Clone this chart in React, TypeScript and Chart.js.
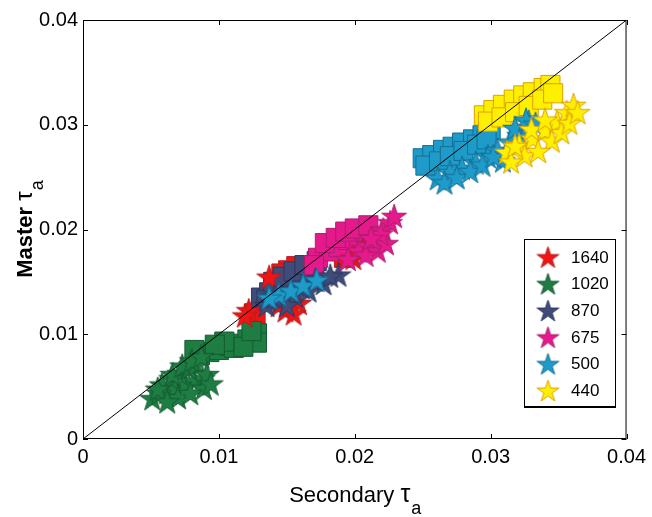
import React, { useEffect, useRef } from "react";
import { Chart, registerables } from "chart.js";
Chart.register(...registerables);

const seriesLabels = ["1640", "1020", "870", "675", "500", "440"];
const fillColors = ["#f01414", "#1e7d41", "#414b78", "#e6198c", "#1e9bc8", "#fff000"];
const edgeColors = ["#b41e1e", "#145a32", "#2d3760", "#aa1e6e", "#146e96", "#dca000"];
const axisTicks = [0, 0.01, 0.02, 0.03, 0.04];

// squares (x = secondary, y = master)
const sq1640X = [0.0126, 0.0127, 0.0151, 0.0157, 0.0192, 0.0199, 0.0195, 0.014, 0.0146];
const sq1640Y = [0.012, 0.0114, 0.0161, 0.0165, 0.0173, 0.0182, 0.0176, 0.0148, 0.0158];
const sq1020X = [0.0093, 0.01, 0.0108, 0.0115, 0.0121, 0.0126, 0.0128, 0.0128, 0.0086, 0.0111, 0.0118, 0.0124, 0.0104, 0.0097, 0.0082];
const sq1020Y = [0.0083, 0.0085, 0.0089, 0.0091, 0.0095, 0.0098, 0.0101, 0.0092, 0.008, 0.0087, 0.0088, 0.0103, 0.0093, 0.009, 0.0085];
const sq870X = [0.0131, 0.0137, 0.0143, 0.0149, 0.0154, 0.016, 0.0166, 0.017, 0.0135, 0.0159, 0.014, 0.0147, 0.0155, 0.0163, 0.0172];
const sq870Y = [0.0135, 0.014, 0.0144, 0.0149, 0.0153, 0.0156, 0.0159, 0.0165, 0.0133, 0.0149, 0.015, 0.0155, 0.016, 0.0166, 0.017];
const sq675X = [0.0173, 0.0181, 0.0188, 0.0195, 0.0203, 0.0208, 0.017, 0.0178, 0.0186, 0.0193, 0.02, 0.021];
const sq675Y = [0.0173, 0.0179, 0.0183, 0.019, 0.0194, 0.0198, 0.0166, 0.0187, 0.0192, 0.0198, 0.0201, 0.0204];
const sq500X = [0.025, 0.0257, 0.0265, 0.0272, 0.0279, 0.0287, 0.0294, 0.03, 0.0252, 0.0262, 0.027, 0.028, 0.029, 0.0297];
const sq500Y = [0.0268, 0.0271, 0.0276, 0.0279, 0.0283, 0.0286, 0.029, 0.0295, 0.0261, 0.0265, 0.027, 0.0275, 0.0281, 0.0286];
const sq440X = [0.0295, 0.0302, 0.0309, 0.0317, 0.0324, 0.0331, 0.0339, 0.0344, 0.0298, 0.0308, 0.0318, 0.0328, 0.0338, 0.0346];
const sq440Y = [0.0309, 0.0314, 0.0319, 0.0324, 0.0328, 0.0331, 0.0335, 0.0338, 0.0303, 0.0307, 0.0312, 0.0318, 0.0324, 0.033];

// stars
const st1640X = [0.0137, 0.0122, 0.0119, 0.0149, 0.0144, 0.0159, 0.0155, 0.0199, 0.0206];
const st1640Y = [0.0155, 0.0123, 0.0118, 0.0123, 0.0128, 0.013, 0.012, 0.0173, 0.018];
const st1020X = [0.0051, 0.0056, 0.0062, 0.0068, 0.0075, 0.0082, 0.0088, 0.0071, 0.0078, 0.0065, 0.0083, 0.0058, 0.0089, 0.0055, 0.0066, 0.0073, 0.008, 0.0087, 0.0091, 0.0094, 0.007, 0.0079, 0.0062];
const st1020Y = [0.0039, 0.0044, 0.0045, 0.0049, 0.0053, 0.0056, 0.0058, 0.0063, 0.0068, 0.0058, 0.0071, 0.0052, 0.0049, 0.0048, 0.0062, 0.007, 0.0075, 0.0079, 0.0062, 0.0053, 0.004, 0.0044, 0.0036];
const st870X = [0.0135, 0.0146, 0.0156, 0.0166, 0.0177, 0.0188, 0.015, 0.0141, 0.0161, 0.0171, 0.0182];
const st870Y = [0.0128, 0.0133, 0.0137, 0.0142, 0.0149, 0.0157, 0.0128, 0.0136, 0.0145, 0.0152, 0.0156];
const st675X = [0.0203, 0.021, 0.0216, 0.0221, 0.0226, 0.0217, 0.0223, 0.0195, 0.0208, 0.0229, 0.0219, 0.0212];
const st675Y = [0.018, 0.0185, 0.0192, 0.02, 0.0207, 0.018, 0.0187, 0.0172, 0.0176, 0.0213, 0.0196, 0.0192];
const st500X = [0.0261, 0.027, 0.0279, 0.0289, 0.0298, 0.0305, 0.0314, 0.0321, 0.0328, 0.0309, 0.0144, 0.0153, 0.0162, 0.0172, 0.0137, 0.0266, 0.0275, 0.0285, 0.0294, 0.0302, 0.0318, 0.0326, 0.0333];
const st500Y = [0.0249, 0.0255, 0.0259, 0.0264, 0.027, 0.0276, 0.0284, 0.029, 0.0303, 0.0266, 0.0138, 0.0142, 0.0147, 0.0152, 0.0135, 0.0245, 0.025, 0.0256, 0.0262, 0.027, 0.0297, 0.0305, 0.0301];
const st440X = [0.0312, 0.0321, 0.0331, 0.034, 0.0349, 0.0356, 0.0361, 0.0325, 0.0345, 0.0315, 0.0335, 0.0352, 0.0358, 0.0364, 0.033, 0.034, 0.0318];
const st440Y = [0.0274, 0.0281, 0.0287, 0.0295, 0.0303, 0.0312, 0.0319, 0.0271, 0.0285, 0.0265, 0.0275, 0.0293, 0.0302, 0.0312, 0.0296, 0.0305, 0.028];

const squareXs = [sq1640X, sq1020X, sq870X, sq675X, sq500X, sq440X];
const squareYs = [sq1640Y, sq1020Y, sq870Y, sq675Y, sq500Y, sq440Y];
const starXs = [st1640X, st1020X, st870X, st675X, st500X, st440X];
const starYs = [st1640Y, st1020Y, st870Y, st675Y, st500Y, st440Y];

const FONT = "'Liberation Sans', Arial, Helvetica, sans-serif";

function makeStar(fill: string, edge: string, outer: number): HTMLCanvasElement {
  const pad = 2;
  const size = Math.ceil(outer * 2 + pad * 2);
  const c = document.createElement("canvas");
  c.width = size;
  c.height = size;
  const ctx = c.getContext("2d")!;
  const cx = size / 2;
  const cy = size / 2 + outer * 0.1;
  const inner = outer * 0.382;
  ctx.beginPath();
  for (let k = 0; k < 10; k++) {
    const r = k % 2 === 0 ? outer : inner;
    const a = -Math.PI / 2 + (k * Math.PI) / 5;
    const px = cx + r * Math.cos(a);
    const py = cy + r * Math.sin(a);
    if (k === 0) ctx.moveTo(px, py);
    else ctx.lineTo(px, py);
  }
  ctx.closePath();
  ctx.fillStyle = fill;
  ctx.fill();
  ctx.lineWidth = 1;
  ctx.strokeStyle = edge;
  ctx.stroke();
  return c;
}

export default function App() {
  const ref = useRef<HTMLCanvasElement | null>(null);

  useEffect(() => {
    if (!ref.current) return;
    const plotStars = fillColors.map((f, i) => makeStar(f, edgeColors[i], 13));
    const legendStars = fillColors.map((f, i) => makeStar(f, edgeColors[i], 11.5));

    const datasets: any[] = [];
    datasets.push({
      type: "line",
      label: "diag",
      data: [
        { x: 0, y: 0 },
        { x: 0.04, y: 0.04 },
      ],
      borderColor: "#000",
      borderWidth: 1,
      pointRadius: 0,
      order: 0,
    });
    seriesLabels.forEach((lab, i) => {
      datasets.push({
        type: "scatter",
        label: lab + " sq",
        data: squareXs[i].map((x, j) => ({ x, y: squareYs[i][j] })),
        pointStyle: "rect",
        pointRadius: 13.5,
        backgroundColor: fillColors[i],
        borderColor: edgeColors[i],
        borderWidth: 1,
        order: 100 - i,
      });
      datasets.push({
        type: "scatter",
        label: lab,
        data: starXs[i].map((x, j) => ({ x, y: starYs[i][j] })),
        pointStyle: plotStars[i],
        pointRadius: 13,
        backgroundColor: fillColors[i],
        borderColor: edgeColors[i],
        order: 50 - i,
      });
    });

    const drawTitle = (ctx: any, main: string, tau: string, sub: string, mainFont: string, tauFont: string, subFont: string, subDrop: number) => {
      ctx.font = mainFont;
      const w1 = ctx.measureText(main).width;
      ctx.font = tauFont;
      const w2 = ctx.measureText(tau).width;
      ctx.font = subFont;
      const w3 = ctx.measureText(sub).width;
      const s = -(w1 + w2 + w3) / 2;
      ctx.font = mainFont;
      ctx.fillText(main, s, 0);
      ctx.font = tauFont;
      ctx.fillText(tau, s + w1, 0);
      ctx.font = subFont;
      ctx.fillText(sub, s + w1 + w2 + 1, subDrop);
    };

    const framePlugin = {
      id: "frame",
      afterDraw(chart: any) {
        const { ctx, chartArea } = chart;
        const { left, right, top, bottom } = chartArea;
        const xs = chart.scales.x;
        const ys = chart.scales.y;
        ctx.save();
        ctx.strokeStyle = "#000";
        ctx.lineWidth = 1;
        ctx.strokeRect(left + 0.5, top + 0.5, right - left - 1, bottom - top - 1);
        ctx.beginPath();
        axisTicks.forEach((t) => {
          const px = Math.round(xs.getPixelForValue(t)) + 0.5;
          ctx.moveTo(px, bottom);
          ctx.lineTo(px, bottom - 5);
          ctx.moveTo(px, top);
          ctx.lineTo(px, top + 5);
          const py = Math.round(ys.getPixelForValue(t)) + 0.5;
          ctx.moveTo(left, py);
          ctx.lineTo(left + 5, py);
          ctx.moveTo(right, py);
          ctx.lineTo(right - 5, py);
        });
        ctx.stroke();

        // axis titles
        ctx.fillStyle = "#000";
        ctx.textBaseline = "alphabetic";
        ctx.textAlign = "left";
        ctx.save();
        ctx.translate((left + right) / 2, 502);
        drawTitle(ctx, "Secondary ", "τ", "a", `22px ${FONT}`, `25px ${FONT}`, `18px ${FONT}`, 12);
        ctx.restore();

        ctx.save();
        ctx.translate(32, (top + bottom) / 2);
        ctx.rotate(-Math.PI / 2);
        drawTitle(ctx, "Master ", "τ", "a", `bold 22px ${FONT}`, `24px ${FONT}`, `18px ${FONT}`, 11);
        ctx.restore();

        // legend
        const bx = 524, by = 239, bw = 91, bh = 167;
        ctx.fillStyle = "#fff";
        ctx.fillRect(bx, by, bw, bh);
        ctx.strokeStyle = "#000";
        ctx.lineWidth = 1;
        ctx.strokeRect(bx + 0.5, by + 0.5, bw, bh);
        ctx.lineWidth = 2;
        ctx.beginPath();
        ctx.moveTo(bx, by + bh + 1);
        ctx.lineTo(bx + bw + 1, by + bh + 1);
        ctx.stroke();
        ctx.font = `17px ${FONT}`;
        ctx.textBaseline = "middle";
        ctx.textAlign = "left";
        ctx.fillStyle = "#000";
        seriesLabels.forEach((lab, i) => {
          const ly = 257 + i * 26.7;
          const img = legendStars[i];
          ctx.drawImage(img, 548 - img.width / 2, ly - img.height / 2);
          ctx.fillText(lab, 571, ly + 1);
        });
        ctx.restore();
      },
    };

    const tickFmt = (v: any) => (Math.abs(v) < 1e-9 ? "0" : Number(v).toFixed(2));

    const chart = new Chart(ref.current, {
      type: "scatter",
      data: { datasets },
      options: {
        animation: false,
        responsive: false,
        events: [],
        layout: { padding: { left: 0, right: 21, top: 20, bottom: 0 } },
        plugins: { legend: { display: false }, tooltip: { enabled: false } },
        scales: {
          x: {
            type: "linear",
            min: 0,
            max: 0.04,
            afterFit: (s: any) => {
              s.height = 78;
            },
            afterBuildTicks: (s: any) => {
              s.ticks = axisTicks.map((v) => ({ value: v }));
            },
            grid: { display: false, drawTicks: false },
            border: { display: false },
            ticks: {
              padding: 6,
              color: "#000",
              font: { family: FONT, size: 20 },
              callback: tickFmt,
              maxRotation: 0,
            },
          },
          y: {
            type: "linear",
            min: 0,
            max: 0.04,
            afterFit: (s: any) => {
              s.width = 83;
            },
            afterBuildTicks: (s: any) => {
              s.ticks = axisTicks.map((v) => ({ value: v }));
            },
            grid: { display: false, drawTicks: false },
            border: { display: false },
            ticks: {
              padding: 5,
              color: "#000",
              font: { family: FONT, size: 20 },
              callback: tickFmt,
            },
          },
        },
      },
      plugins: [framePlugin],
    } as any);
    return () => chart.destroy();
  }, []);

  return (
    <div style={{ position: "fixed", left: 0, top: 0, width: 652, height: 517, background: "#fff" }}>
      <canvas ref={ref} width={652} height={517} style={{ width: 652, height: 517, display: "block" }} />
    </div>
  );
}
